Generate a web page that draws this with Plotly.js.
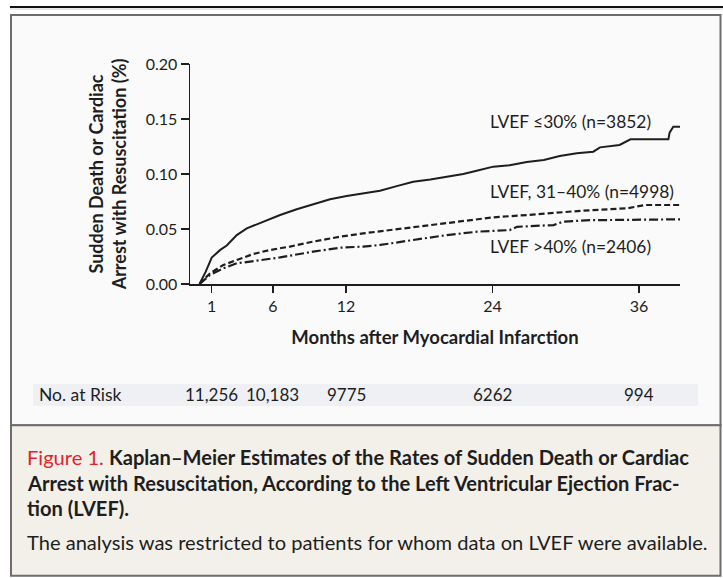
<!DOCTYPE html>
<html>
<head>
<meta charset="utf-8">
<script src="https://cdn.plot.ly/plotly-3.0.1.min.js"></script>
<style>
html,body{margin:0;padding:0;background:#ffffff;}
#chart{width:723px;height:578px;}
</style>
</head>
<body>
<div id="chart"></div>
<script>
// ---- Data ----
const monthsLe30 = [0, 0.5, 1, 1.7, 2.23, 3.05, 3.87, 5.23, 6.6, 7.96, 9.32, 10.69, 12.05, 13.4, 14.78, 16.15, 17.5, 18.9, 20.25, 21.6, 22.7, 24.06, 25.4, 26.8, 28.2, 29.5, 30.9, 32.25, 32.8, 34.4, 35.3, 38.4, 38.5, 38.8, 39.35];
const rateLe30   = [0, 0.011, 0.024, 0.031, 0.035, 0.0445, 0.0506, 0.0567, 0.0627, 0.0679, 0.0724, 0.077, 0.080, 0.0824, 0.0848, 0.089, 0.093, 0.095, 0.0976, 0.100, 0.103, 0.1067, 0.108, 0.111, 0.1127, 0.1164, 0.1188, 0.1203, 0.1242, 0.1264, 0.1315, 0.1315, 0.1376, 0.143, 0.143];

const months31to40 = [0, 0.86, 1.95, 3.05, 4.4, 5.77, 7.4, 9.3, 11.5, 13.4, 16.15, 18.9, 21.6, 24.06, 26.8, 29.5, 31.4, 35, 36.5, 39.35];
const rate31to40   = [0, 0.0097, 0.0173, 0.0218, 0.0273, 0.0309, 0.034, 0.0385, 0.043, 0.046, 0.0497, 0.0536, 0.0567, 0.0606, 0.0627, 0.0648, 0.0667, 0.0688, 0.0718, 0.0718];

const monthsGt40 = [0, 0.86, 1.95, 3.05, 4.7, 6.6, 9.3, 11.5, 13.4, 14.8, 17.5, 20.25, 22.8, 25.4, 26, 29, 29.8, 32, 39.35];
const rateGt40   = [0, 0.0082, 0.0142, 0.0188, 0.0212, 0.0242, 0.0294, 0.033, 0.034, 0.0355, 0.040, 0.0445, 0.0476, 0.049, 0.052, 0.0536, 0.0567, 0.058, 0.0588];

const seriesLabels = ["LVEF \u226430% (n=3852)", "LVEF, 31\u201340% (n=4998)", "LVEF >40% (n=2406)"];

const xTickVals = [1, 6, 12, 24, 36];
const yTickVals = [0, 0.05, 0.10, 0.15, 0.20];
const atRiskMonths = [1, 6, 12, 24, 36];
const atRiskCounts = ["11,256", "10,183", "9775", "6262", "994"];

// ---- Layout helpers (pixel -> paper) ----
const W = 723, H = 578;
const M = {l: 190, r: 43, t: 64, b: 294};
const PW = W - M.l - M.r, PH = H - M.t - M.b;
const X = px => (px - M.l) / PW;
const Y = py => (H - M.b - py) / PH;

const FONT = "Lato, 'Open Sans', sans-serif";
const INK = "#1e1e1e";

const traces = [
  {x: monthsLe30, y: rateLe30, mode: "lines", line: {color: INK, width: 2, dash: "solid"}, name: seriesLabels[0], hoverinfo: "skip"},
  {x: months31to40, y: rate31to40, mode: "lines", line: {color: INK, width: 2.2, dash: "6px,3px"}, name: seriesLabels[1], hoverinfo: "skip"},
  {x: monthsGt40, y: rateGt40, mode: "lines", line: {color: INK, width: 2.2, dash: "9px,3px,2px,3px"}, name: seriesLabels[2], hoverinfo: "skip"}
];

const shapes = [
  {type: "line", xref: "paper", yref: "paper", x0: X(10), x1: X(723), y0: Y(7), y1: Y(7), line: {color: "#111", width: 2}, layer: "below"},
  {type: "line", xref: "paper", yref: "paper", x0: X(10), x1: X(723), y0: Y(9), y1: Y(9), line: {color: "#cfcfcf", width: 1}, layer: "below"},
  {type: "rect", xref: "paper", yref: "paper", x0: X(11), x1: X(720.5), y0: Y(15), y1: Y(425.3), fillcolor: "#fafafa", line: {color: "#6d6d6d", width: 2}, layer: "below"},
  {type: "rect", xref: "paper", yref: "paper", x0: X(11), x1: X(720.5), y0: Y(425.3), y1: Y(575.7), fillcolor: "#f3f0e9", line: {color: "#6d6d6d", width: 2}, layer: "below"},
  {type: "rect", xref: "paper", yref: "paper", x0: X(33), x1: X(698), y0: Y(384), y1: Y(406), fillcolor: "#eef0f3", line: {width: 0}, layer: "below"}
];

const annotations = [];
// curve labels
const labelY = [121.7, 191.7, 246.7];
seriesLabels.forEach((t, i) => {
  annotations.push({xref: "paper", yref: "paper", x: X(488), y: Y(labelY[i]), text: t, showarrow: false,
    xanchor: "left", yanchor: "middle", font: {family: FONT, size: 17.4, color: INK}});
});
// number at risk
annotations.push({xref: "paper", yref: "paper", x: X(37), y: Y(395), text: "No. at Risk", showarrow: false,
  xanchor: "left", yanchor: "middle", font: {family: FONT, size: 17.5, color: INK}});
atRiskMonths.forEach((m, i) => {
  annotations.push({xref: "x", yref: "paper", x: m, y: Y(395), text: atRiskCounts[i], showarrow: false,
    xanchor: "center", yanchor: "middle", font: {family: FONT, size: 17, color: INK}});
});
// caption
const capLines = [
  {y: 457, t: '<span style="color:#e3222b">Figure 1.</span> <b>Kaplan\u2013Meier Estimates of the Rates of Sudden Death or Cardiac</b>'},
  {y: 483, t: '<b>Arrest with Resuscitation, According to the Left Ventricular Ejection Frac-</b>'},
  {y: 508, t: '<b>tion (LVEF).</b>'},
  {y: 542, t: 'The analysis was restricted to patients for whom data on LVEF were available.'}
];
capLines.forEach(c => {
  annotations.push({xref: "paper", yref: "paper", x: X(25), y: Y(c.y), text: c.t, showarrow: false,
    xanchor: "left", yanchor: "middle", font: {family: FONT, size: 20.1, color: INK}});
});

const layout = {
  width: W, height: H,
  margin: M,
  paper_bgcolor: "rgba(0,0,0,0)",
  plot_bgcolor: "rgba(0,0,0,0)",
  showlegend: false,
  font: {family: FONT, color: INK},
  xaxis: {
    range: [-0.78, 39.35], showgrid: false, zeroline: false,
    showline: true, linecolor: INK, linewidth: 1.5,
    ticks: "outside", ticklen: 7, tickwidth: 1.5, tickcolor: INK,
    tickvals: xTickVals, tickfont: {family: FONT, size: 16, color: INK},
    title: {text: "<b>Months after Myocardial Infarction</b>", font: {family: FONT, size: 18.5, color: INK}, standoff: 17}
  },
  yaxis: {
    range: [0, 0.2], showgrid: false, zeroline: false,
    showline: true, linecolor: INK, linewidth: 1.5,
    ticks: "outside", ticklen: 8, tickwidth: 1.5, tickcolor: INK,
    tickvals: yTickVals, tickformat: ".2f", tickfont: {family: FONT, size: 16, color: INK},
    title: {text: "<b>Sudden Death or Cardiac<br>Arrest with Resuscitation (%)</b>", font: {family: FONT, size: 18, color: INK}, standoff: 14}
  },
  shapes: shapes,
  annotations: annotations
};

Plotly.newPlot("chart", traces, layout, {staticPlot: true, displayModeBar: false});
</script>
</body>
</html>
